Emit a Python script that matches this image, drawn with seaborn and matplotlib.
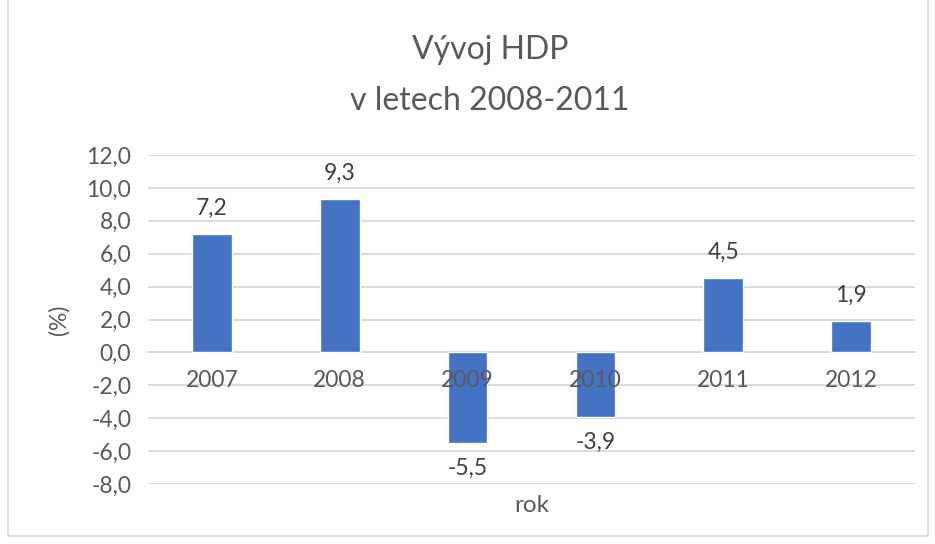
import matplotlib
matplotlib.use("Agg")
import matplotlib.pyplot as plt
import seaborn as sns
import pandas as pd
from matplotlib.patches import Rectangle

years = ["2007", "2008", "2009", "2010", "2011", "2012"]
growth = [7.2, 9.3, -5.5, -3.9, 4.5, 1.9]
yticks = [-8, -6, -4, -2, 0, 2, 4, 6, 8, 10, 12]
title_lines = ["Vývoj HDP", "v letech 2008-2011"]

sns.set_theme(style="white")
plt.rcParams['font.family'] = ['Lato', 'DejaVu Sans']
TXT = "#595959"
GRID = "#D9D9D9"
FS = 16.5

df = pd.DataFrame({"rok": years, "hdp": growth})

fig = plt.figure(figsize=(9.35, 5.44), dpi=100)
ax = fig.add_axes([148/935, 1-484/544, (915-148)/935, (484-155)/544])

sns.barplot(data=df, x="rok", y="hdp", color="#4472C4", width=0.31,
            saturation=1, ax=ax, zorder=3)

ax.set_ylim(-8, 12)
ax.set_yticks(yticks)
ax.set_yticklabels([f"{v:.1f}".replace(".", ",") for v in yticks],
                   fontsize=FS, color=TXT)
ax.yaxis.grid(True, color=GRID, linewidth=1.3, zorder=0)
ax.xaxis.grid(False)
for s in ["top", "right", "left"]:
    ax.spines[s].set_visible(False)
ax.spines["bottom"].set_position(("data", 0))
ax.spines["bottom"].set_color(GRID)
ax.spines["bottom"].set_linewidth(1.3)
ax.tick_params(axis="x", length=0, labelbottom=False)
ax.tick_params(axis="y", length=0, pad=12)
for i, yr in enumerate(years):
    ax.annotate(yr, xy=(i, 0), xytext=(0, -13), textcoords="offset points",
                ha="center", va="top", fontsize=FS, color=TXT, zorder=6)
ax.set_xlabel("")
ax.set_ylabel("(%)", fontsize=FS, color=TXT, labelpad=12)
ax.text(0.5, -0.065, "rok", transform=ax.transAxes, ha="center", va="center",
        fontsize=17.5, color=TXT)

for c in ax.containers:
    ax.bar_label(c, labels=[f"{v:.1f}".replace(".", ",") for v in growth],
                 padding=11, fontsize=FS, color="#404040")

fig.text(0.524, 1-50/544, title_lines[0], ha="center", va="center",
         fontsize=23, color=TXT)
fig.text(0.524, 1-101/544, title_lines[1], ha="center", va="center",
         fontsize=23, color=TXT)

fig.patches.append(Rectangle((8/935, 8/544), 920/935, 1.2, transform=fig.transFigure,
                             fill=False, edgecolor=GRID, linewidth=1.2))

fig.savefig("out.png", dpi=100)
